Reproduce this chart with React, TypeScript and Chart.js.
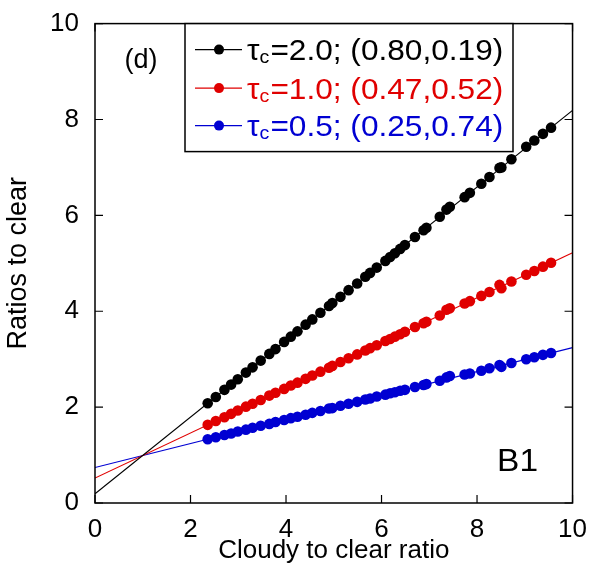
import React, { useEffect, useRef } from "react";
import { Chart, registerables } from "chart.js";

Chart.register(...registerables);

const xValues = [
  2.36, 2.53, 2.71, 2.85, 2.99, 3.16, 3.3, 3.47, 3.65, 3.78, 3.96, 4.1, 4.24, 4.41, 4.55, 4.72,
  4.9, 4.97, 5.14, 5.31, 5.49, 5.66, 5.76, 5.9, 6.08, 6.18, 6.28, 6.39, 6.49, 6.7, 6.88, 6.94,
  7.22, 7.36, 7.43, 7.74, 7.85, 8.09, 8.26, 8.47, 8.51, 8.72, 9.03, 9.2, 9.38, 9.55,
];
const blackY = [
  2.08, 2.21, 2.36, 2.47, 2.58, 2.72, 2.83, 2.97, 3.11, 3.21, 3.36, 3.47, 3.58, 3.72, 3.83, 3.97,
  4.11, 4.17, 4.3, 4.44, 4.58, 4.72, 4.8, 4.91, 5.05, 5.13, 5.21, 5.3, 5.38, 5.55, 5.69, 5.74,
  5.97, 6.12, 6.18, 6.38, 6.47, 6.66, 6.8, 6.99, 7.0, 7.17, 7.43, 7.56, 7.7, 7.83,
];
const redY = [
  1.63, 1.71, 1.79, 1.86, 1.93, 2.01, 2.07, 2.15, 2.24, 2.3, 2.38, 2.45, 2.51, 2.59, 2.66, 2.74,
  2.82, 2.86, 2.94, 3.02, 3.1, 3.18, 3.23, 3.29, 3.38, 3.42, 3.47, 3.52, 3.57, 3.67, 3.75, 3.78,
  3.91, 4.03, 4.06, 4.16, 4.21, 4.32, 4.4, 4.55, 4.48, 4.62, 4.76, 4.84, 4.93, 5.01,
];
const blueY = [
  1.33, 1.37, 1.42, 1.45, 1.49, 1.53, 1.57, 1.61, 1.65, 1.69, 1.73, 1.77, 1.8, 1.84, 1.88, 1.92,
  1.97, 1.98, 2.03, 2.07, 2.11, 2.16, 2.18, 2.22, 2.26, 2.29, 2.31, 2.34, 2.36, 2.42, 2.46, 2.48,
  2.55, 2.62, 2.65, 2.68, 2.7, 2.76, 2.81, 2.88, 2.84, 2.92, 3.0, 3.04, 3.09, 3.13,
];

const fitX = [0, 10];
const blackFit = [0.19, 8.19];
const redFit = [0.52, 5.22];
const blueFit = [0.74, 3.24];

const seriesColors = ["#000000", "#e00000", "#0000d2"];
const legendTau = ["2.0", "1.0", "0.5"];
const legendCoef = ["(0.80,0.19)", "(0.47,0.52)", "(0.25,0.74)"];
const tickValues = [0, 2, 4, 6, 8, 10];

const FONT = "'Liberation Sans', Arial, sans-serif";

const pts = (ys: number[]) => xValues.map((x, i) => ({ x, y: ys[i] }));
const fit = (ys: number[]) => fitX.map((x, i) => ({ x, y: ys[i] }));

const decorPlugin = {
  id: "decor",
  afterDraw(chart: any) {
    const { ctx, chartArea: a, scales } = chart;
    ctx.save();
    ctx.strokeStyle = "#000";
    ctx.lineWidth = 1.5;
    ctx.strokeRect(a.left, a.top, a.right - a.left, a.bottom - a.top);
    ctx.lineWidth = 1.2;
    ctx.beginPath();
    tickValues.forEach((v) => {
      const px = scales.x.getPixelForValue(v);
      ctx.moveTo(px, a.bottom);
      ctx.lineTo(px, a.bottom - 8);
      ctx.moveTo(px, a.top);
      ctx.lineTo(px, a.top + 8);
      const py = scales.y.getPixelForValue(v);
      ctx.moveTo(a.left, py);
      ctx.lineTo(a.left + 8, py);
      ctx.moveTo(a.right, py);
      ctx.lineTo(a.right - 8, py);
    });
    ctx.stroke();

    const bx = a.left + 90;
    const by = a.top;
    const bw = 328;
    const bh = 128;
    ctx.fillStyle = "#fff";
    ctx.fillRect(bx, by, bw, bh);
    ctx.lineWidth = 1.5;
    ctx.strokeStyle = "#000";
    ctx.strokeRect(bx, by, bw, bh);

    const rowY = [26, 64.5, 102];
    for (let i = 0; i < 3; i++) {
      const cy = by + rowY[i];
      const col = seriesColors[i];
      ctx.strokeStyle = col;
      ctx.lineWidth = 1.2;
      ctx.beginPath();
      ctx.moveTo(bx + 10, cy);
      ctx.lineTo(bx + 57, cy);
      ctx.stroke();
      ctx.fillStyle = col;
      ctx.beginPath();
      ctx.arc(bx + 34, cy, 5, 0, Math.PI * 2);
      ctx.fill();

      const baseY = cy + 10.5;
      ctx.save();
      ctx.translate(bx + 62, baseY);
      ctx.scale(1.09, 1);
      ctx.textBaseline = "alphabetic";
      ctx.textAlign = "left";
      ctx.font = `29px ${FONT}`;
      ctx.fillText("τ", 0, 0);
      let w = ctx.measureText("τ").width;
      ctx.font = `18px ${FONT}`;
      ctx.fillText("c", w, 3);
      w += ctx.measureText("c").width + 1;
      ctx.font = `29px ${FONT}`;
      ctx.fillText(`=${legendTau[i]}; ${legendCoef[i]}`, w, 0);
      ctx.restore();
    }

    ctx.fillStyle = "#000";
    ctx.textAlign = "center";
    ctx.textBaseline = "middle";
    ctx.font = `27px ${FONT}`;
    ctx.fillText("(d)", a.left + 46, a.top + 37);
    ctx.save();
    ctx.translate(a.right - 55, a.bottom - 41);
    ctx.scale(1.08, 1);
    ctx.font = `31px ${FONT}`;
    ctx.fillText("B1", 0, 0);
    ctx.restore();
    ctx.restore();
  },
};

export default function App() {
  const ref = useRef<HTMLCanvasElement | null>(null);

  useEffect(() => {
    if (!ref.current) return;
    const chart = new Chart(ref.current, {
      type: "scatter",
      data: {
        datasets: [
          { data: pts(blackY), backgroundColor: seriesColors[0], borderWidth: 0, pointRadius: 5.3, showLine: false, order: 0 },
          { data: pts(redY), backgroundColor: seriesColors[1], borderWidth: 0, pointRadius: 5.3, showLine: false, order: 0 },
          { data: pts(blueY), backgroundColor: seriesColors[2], borderWidth: 0, pointRadius: 5.3, showLine: false, order: 0 },
          { data: fit(blackFit), borderColor: seriesColors[0], borderWidth: 1.2, pointRadius: 0, showLine: true, order: 1 },
          { data: fit(redFit), borderColor: seriesColors[1], borderWidth: 1.2, pointRadius: 0, showLine: true, order: 1 },
          { data: fit(blueFit), borderColor: seriesColors[2], borderWidth: 1.2, pointRadius: 0, showLine: true, order: 1 },
        ],
      },
      options: {
        animation: false,
        responsive: false,
        maintainAspectRatio: false,
        layout: { padding: { top: 22, right: 15, left: 0, bottom: 0 } },
        plugins: { legend: { display: false }, tooltip: { enabled: false } },
        scales: {
          x: {
            type: "linear",
            min: 0,
            max: 10,
            afterFit: (s: any) => {
              s.height = 60;
            },
            afterBuildTicks: (s: any) => {
              s.ticks = tickValues.map((v) => ({ value: v }));
            },
            grid: { display: false },
            border: { display: false },
            ticks: { color: "#000", font: { family: FONT, size: 26 }, padding: 3, maxRotation: 0 },
            title: {
              display: true,
              text: "Cloudy to clear ratio",
              color: "#000",
              font: { family: FONT, size: 26 },
              padding: { top: 0, bottom: -3 },
            },
          },
          y: {
            type: "linear",
            min: 0,
            max: 10,
            afterFit: (s: any) => {
              s.width = 95;
            },
            afterBuildTicks: (s: any) => {
              s.ticks = tickValues.map((v) => ({ value: v }));
            },
            grid: { display: false },
            border: { display: false },
            ticks: { color: "#000", font: { family: FONT, size: 26 }, padding: 8 },
            title: {
              display: true,
              text: "Ratios to clear",
              color: "#000",
              font: { family: FONT, size: 27 },
              padding: { top: 2, bottom: 0 },
            },
          },
        },
      },
      plugins: [decorPlugin],
    });
    return () => chart.destroy();
  }, []);

  return (
    <div style={{ position: "fixed", left: 0, top: 0, width: 590, height: 563, background: "#fff" }}>
      <canvas ref={ref} width={590} height={563} style={{ width: 590, height: 563 }} />
    </div>
  );
}
